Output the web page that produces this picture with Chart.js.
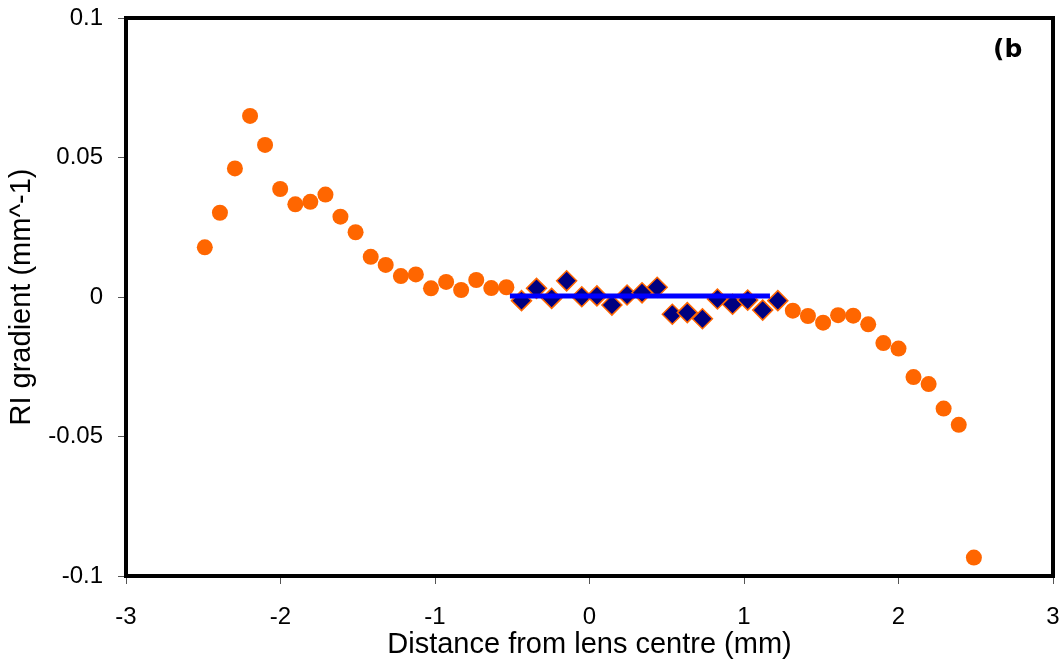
<!DOCTYPE html>
<html>
<head>
<meta charset="utf-8">
<title>RI gradient</title>
<script src="https://cdn.jsdelivr.net/npm/chart.js@4/dist/chart.umd.min.js"></script>
<style>
  html, body { margin: 0; padding: 0; background: #fff; }
  #wrap { width: 1061px; height: 665px; position: relative; }
</style>
</head>
<body>
<div id="wrap"><canvas id="gradChart"></canvas></div>
<script>
// Measured profile, outer part of the lens (circles)
const outerX = [-2.490, -2.392, -2.295, -2.197, -2.100, -2.002, -1.904, -1.807, -1.709, -1.612,
  -1.514, -1.416, -1.319, -1.221, -1.124, -1.026, -0.928, -0.831, -0.733, -0.636, -0.538,
  1.316, 1.414, 1.512, 1.609, 1.707, 1.804, 1.902, 2.000, 2.097, 2.195, 2.292, 2.390, 2.488];
const outerY = [0.0178, 0.0302, 0.0461, 0.0649, 0.0545, 0.0387, 0.0332, 0.0341, 0.0367, 0.0288,
  0.0232, 0.0144, 0.0115, 0.0075, 0.0081, 0.0031, 0.0054, 0.0025, 0.0061, 0.0032, 0.0035,
  -0.0049, -0.0068, -0.0092, -0.0065, -0.0067, -0.0098, -0.0165, -0.0185, -0.0287, -0.0312, -0.0400, -0.0458, -0.0934];

// Central region (diamonds)
const coreX = [-0.440, -0.343, -0.245, -0.148, -0.050, 0.048, 0.145, 0.243, 0.340,
  0.438, 0.536, 0.633, 0.731, 0.828, 0.926, 1.024, 1.121, 1.219];
const coreY = [-0.0013, 0.0031, -0.0005, 0.0058, 0.0001, 0.0004, -0.0029, 0.0007, 0.0015,
  0.0035, -0.0062, -0.0056, -0.0078, -0.0007, -0.0026, -0.0011, -0.0047, -0.0013];

// Linear fit across the central region
const fitX = [-0.515, 1.168];
const fitY = [0.0004, 0.0004];

const xTicks = [-3, -2, -1, 0, 1, 2, 3];
const yTicks = [-0.1, -0.05, 0, 0.05, 0.1];

const toPoints = (xs, ys) => xs.map((x, i) => ({ x: x, y: ys[i] }));

const FONT = "'Liberation Sans', Arial, sans-serif";

// box around the plot area + panel letter
const framePlugin = {
  id: 'frame',
  beforeDatasetsDraw(chart) {
    const { ctx, chartArea: a } = chart;
    ctx.save();
    ctx.strokeStyle = '#000';
    ctx.lineWidth = 4;
    ctx.strokeRect(a.left, a.top, a.right - a.left, a.bottom - a.top);
    ctx.restore();
  },
  afterDraw(chart) {
    const ctx = chart.ctx;
    ctx.save();
    ctx.fillStyle = '#000';
    ctx.font = "bold 25px 'DejaVu Sans', Verdana, sans-serif";
    ctx.textBaseline = 'alphabetic';
    ctx.fillText('(b', 993, 57);
    ctx.restore();
  }
};

const ctx = document.getElementById('gradChart').getContext('2d');
const chart = new Chart(ctx, {
  type: 'scatter',
  data: {
    datasets: [
      {
        label: 'fit',
        type: 'line',
        data: toPoints(fitX, fitY),
        borderColor: '#0000ff',
        borderWidth: 5,
        pointRadius: 0,
        fill: false,
        order: 0
      },
      {
        label: 'core',
        data: toPoints(coreX, coreY),
        pointStyle: 'rectRot',
        pointRadius: 10,
        backgroundColor: '#000080',
        borderColor: '#ff6600',
        borderWidth: 1.5,
        order: 1
      },
      {
        label: 'outer',
        data: toPoints(outerX, outerY),
        pointStyle: 'circle',
        pointRadius: 8,
        backgroundColor: '#ff6600',
        borderWidth: 0,
        order: 2
      }
    ]
  },
  options: {
    responsive: true,
    maintainAspectRatio: false,
    animation: false,
    events: [],
    layout: { autoPadding: false, padding: { top: 18, right: 8, left: 0, bottom: 0 } },
    plugins: {
      legend: { display: false },
      tooltip: { enabled: false }
    },
    scales: {
      x: {
        type: 'linear',
        min: -3,
        max: 3,
        afterBuildTicks: s => { s.ticks = xTicks.map(v => ({ value: v })); },
        afterFit: s => {
          s.height = 89;
          s.paddingLeft = 0;
          s.paddingRight = 0;
        },
        ticks: {
          color: '#000',
          font: { family: FONT, size: 24 },
          padding: 19,
          callback: v => String(v)
        },
        grid: {
          drawOnChartArea: false,
          drawTicks: true,
          tickLength: 8,
          tickColor: '#555',
          lineWidth: 1
        },
        border: { display: false },
        title: {
          display: true,
          text: 'Distance from lens centre (mm)',
          color: '#000',
          font: { family: FONT, size: 29 },
          padding: { top: 0, bottom: 3 }
        }
      },
      y: {
        type: 'linear',
        min: -0.1,
        max: 0.1,
        afterBuildTicks: s => { s.ticks = yTicks.map(v => ({ value: v })); },
        afterFit: s => {
          s.width = 126;
          s.paddingTop = 0;
          s.paddingBottom = 0;
        },
        ticks: {
          color: '#000',
          font: { family: FONT, size: 24 },
          padding: 15,
          callback: v => String(+v.toFixed(3))
        },
        grid: {
          drawOnChartArea: false,
          drawTicks: true,
          tickLength: 8,
          tickColor: '#555',
          lineWidth: 1
        },
        border: { display: false },
        title: {
          display: true,
          text: 'RI gradient (mm^-1)',
          color: '#000',
          font: { family: FONT, size: 29 },
          padding: { top: 5, bottom: 0 }
        }
      }
    }
  },
  plugins: [framePlugin]
});
</script>
</body>
</html>
